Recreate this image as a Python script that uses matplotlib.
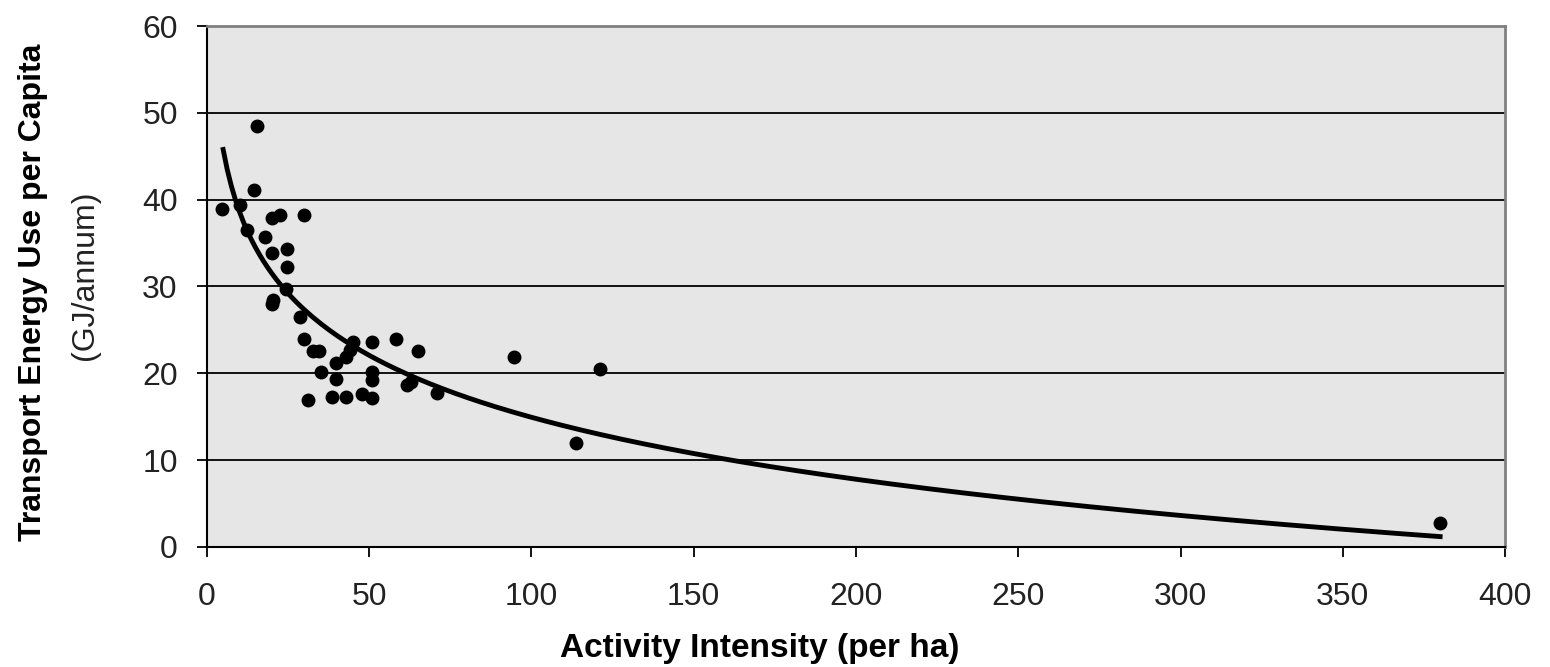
import numpy as np
import matplotlib.pyplot as plt

plt.rcParams['font.family'] = ['Liberation Sans', 'DejaVu Sans']

# Activity intensity (per ha) and transport energy use (GJ/annum)
x = [4.6, 15.4, 10.2, 14.5, 12.2, 19.9, 22.5, 30.0, 17.9, 19.9,
     24.6, 24.6, 24.3, 19.9, 20.3, 28.7, 30.0, 32.8, 34.5, 45.0,
     44.0, 43.0, 50.8, 58.4, 65.1, 39.8, 35.3, 39.8, 50.8, 50.8,
     61.5, 63.0, 31.2, 38.4, 43.0, 47.7, 50.8, 70.8, 94.7, 121.1,
     113.6, 380.0]
y = [38.9, 48.5, 39.4, 41.1, 36.5, 37.9, 38.2, 38.2, 35.7, 33.9,
     34.3, 32.2, 29.7, 28.0, 28.4, 26.5, 24.0, 22.6, 22.6, 23.6,
     22.7, 21.9, 23.6, 24.0, 22.6, 21.2, 20.2, 19.4, 20.2, 19.2,
     18.7, 19.0, 16.9, 17.3, 17.3, 17.6, 17.2, 17.7, 21.9, 20.5,
     12.0, 2.7]

xticks = [0, 50, 100, 150, 200, 250, 300, 350, 400]
yticks = [0, 10, 20, 30, 40, 50, 60]

# logarithmic trend line fitted to the points
b, a = np.polyfit(np.log(x), y, 1)
xt = np.linspace(5, 380, 300)
yt = a + b * np.log(xt)

fig = plt.figure(figsize=(15.5, 6.67), dpi=100)
ax = fig.add_axes([0.1335, 0.18, 0.8375, 0.781])
ax.set_facecolor('#e6e6e6')

ax.plot(xt, yt, color='black', lw=3.5, zorder=3)
ax.plot(x, y, 'o', color='black', ms=9, zorder=4)

ax.set_xlim(0, 400)
ax.set_ylim(0, 60)
ax.set_xticks(xticks)
ax.set_yticks(yticks)
ax.tick_params(labelsize=23, length=7, width=1.3, colors='black', labelcolor='#222222')
ax.tick_params(axis='y', pad=14)
ax.tick_params(axis='x', pad=18)
ax.grid(axis='y', color='black', lw=1.3)
ax.set_axisbelow(True)

for s in ['top', 'right']:
    ax.spines[s].set_color('#808080')
    ax.spines[s].set_linewidth(2)
for s in ['left', 'bottom']:
    ax.spines[s].set_color('black')
    ax.spines[s].set_linewidth(1.5)

fig.text(0.49, 0.027, 'Activity Intensity (per ha)', fontsize=24, fontweight='bold',
         ha='center', va='center')
fig.text(0.021, 0.562, 'Transport Energy Use per Capita', rotation=90,
         fontsize=23, fontweight='bold', ha='center', va='center')
fig.text(0.055, 0.588, '(GJ/annum)', rotation=90,
         fontsize=23, ha='center', va='center', color='#222222')

fig.savefig('out.png', dpi=100)
